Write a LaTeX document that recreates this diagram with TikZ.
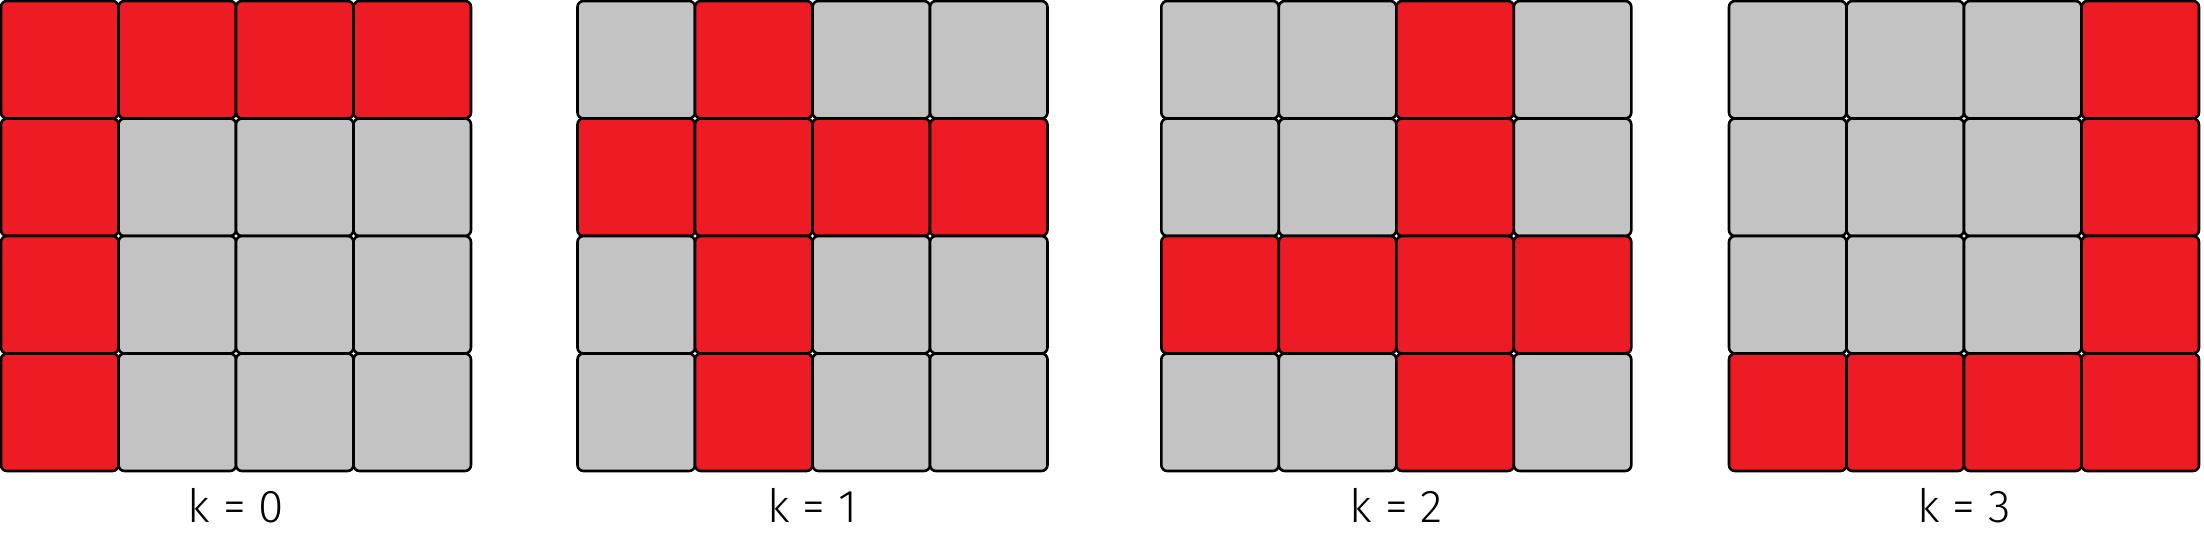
\documentclass[tikz,border=0pt]{standalone}
\usepackage{fontspec}
\setmainfont{Fira Sans Light}
\definecolor{cellred}{HTML}{ED1C24}
\definecolor{cellgray}{HTML}{C3C3C3}
\begin{document}
\begin{tikzpicture}[x=1pt,y=-1pt,
  cell/.style={draw=black, line width=2.6pt, rounded corners=6pt,
    minimum width=117.5pt, minimum height=117.5pt, inner sep=0pt, outer sep=0pt},
  lbl/.style={font=\fontsize{46}{50}\selectfont, text=black, inner sep=0pt, anchor=base}]
\path[use as bounding box, fill=white] (0,0) rectangle (2204,546);
\foreach \k/\gx in {0/1,1/577.5,2/1161.3,3/1729}{
  \foreach \r in {0,...,3}{
    \foreach \c in {0,...,3}{
      \def\cellcol{cellgray}
      \ifnum\r=\k \def\cellcol{cellred}\fi
      \ifnum\c=\k \def\cellcol{cellred}\fi
      \node[cell, fill=\cellcol] (g\k c\r\c) at ({\gx+58.75+117.5*\c},{1+58.75+117.5*\r}) {};
    }
  }
  \node[lbl] (lbl\k) at ({\gx+235},522) {k = \k};
}
\end{tikzpicture}
\end{document}
